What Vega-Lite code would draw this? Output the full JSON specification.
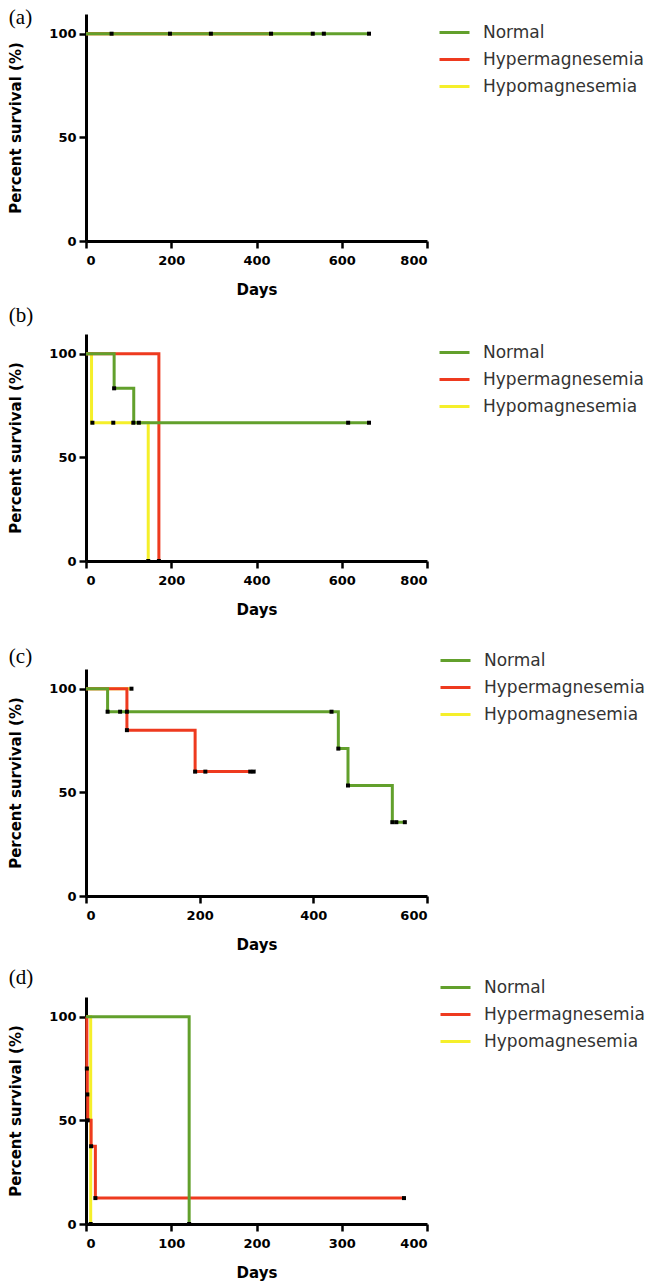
{
  "$schema": "https://vega.github.io/schema/vega-lite/v6.json",
  "padding": {"left": 8, "top": 7, "right": 5, "bottom": 2},
  "background": "white",
  "config": {
    "view": {"stroke": null},
    "axis": {"domainColor": "black", "domainWidth": 3, "tickColor": "black", "tickWidth": 2.5, "tickSize": 7, "grid": false,
      "labelFont": "DejaVu Sans", "labelFontWeight": "bold", "labelFontSize": 13, "labelColor": "black",
      "titleFont": "DejaVu Sans", "titleFontSize": 15, "titleFontWeight": "bold", "titleColor": "black"},
    "axisX": {"labelPadding": 6, "titlePadding": 15},
    "axisY": {"labelPadding": 3, "titlePadding": 25},
    "legend": {"orient": "right", "offset": 9, "padding": 2, "labelFont": "DejaVu Sans", "labelFontSize": 17, "labelColor": "#333333", "labelLimit": 300,
      "symbolType": "stroke", "symbolStrokeWidth": 3, "symbolSize": 900, "rowPadding": 2, "labelOffset": 12},
    "title": {"anchor": "start", "frame": "bounds", "font": "Liberation Serif", "fontSize": 21, "fontWeight": "normal", "color": "black", "offset": 0}
  },
  "datasets": {
    "km": [
      {"panel": "a", "group": "Hypomagnesemia", "day": 0, "surv": 100},
      {"panel": "a", "group": "Hypomagnesemia", "day": 535, "surv": 100},
      {"panel": "a", "group": "Hypermagnesemia", "day": 0, "surv": 100},
      {"panel": "a", "group": "Hypermagnesemia", "day": 440, "surv": 100},
      {"panel": "a", "group": "Normal", "day": 0, "surv": 100},
      {"panel": "a", "group": "Normal", "day": 665, "surv": 100},

      {"panel": "b", "group": "Hypomagnesemia", "day": 0, "surv": 100},
      {"panel": "b", "group": "Hypomagnesemia", "day": 13, "surv": 66.7},
      {"panel": "b", "group": "Hypomagnesemia", "day": 146, "surv": 0},
      {"panel": "b", "group": "Hypermagnesemia", "day": 0, "surv": 100},
      {"panel": "b", "group": "Hypermagnesemia", "day": 171, "surv": 0},
      {"panel": "b", "group": "Normal", "day": 0, "surv": 100},
      {"panel": "b", "group": "Normal", "day": 66, "surv": 83.3},
      {"panel": "b", "group": "Normal", "day": 112, "surv": 66.7},
      {"panel": "b", "group": "Normal", "day": 665, "surv": 66.7},

      {"panel": "c", "group": "Hypomagnesemia", "day": 0, "surv": 100},
      {"panel": "c", "group": "Hypomagnesemia", "day": 80, "surv": 100},
      {"panel": "c", "group": "Hypermagnesemia", "day": 0, "surv": 100},
      {"panel": "c", "group": "Hypermagnesemia", "day": 72, "surv": 80},
      {"panel": "c", "group": "Hypermagnesemia", "day": 192, "surv": 60},
      {"panel": "c", "group": "Hypermagnesemia", "day": 295, "surv": 60},
      {"panel": "c", "group": "Normal", "day": 0, "surv": 100},
      {"panel": "c", "group": "Normal", "day": 38, "surv": 88.9},
      {"panel": "c", "group": "Normal", "day": 444, "surv": 71.1},
      {"panel": "c", "group": "Normal", "day": 461, "surv": 53.3},
      {"panel": "c", "group": "Normal", "day": 539, "surv": 35.6},
      {"panel": "c", "group": "Normal", "day": 563, "surv": 35.6},

      {"panel": "d", "group": "Hypomagnesemia", "day": 0, "surv": 100},
      {"panel": "d", "group": "Hypomagnesemia", "day": 5.5, "surv": 0},
      {"panel": "d", "group": "Hypermagnesemia", "day": 0, "surv": 100},
      {"panel": "d", "group": "Hypermagnesemia", "day": 1, "surv": 75},
      {"panel": "d", "group": "Hypermagnesemia", "day": 1.5, "surv": 62.5},
      {"panel": "d", "group": "Hypermagnesemia", "day": 2, "surv": 50},
      {"panel": "d", "group": "Hypermagnesemia", "day": 6, "surv": 37.5},
      {"panel": "d", "group": "Hypermagnesemia", "day": 11, "surv": 12.5},
      {"panel": "d", "group": "Hypermagnesemia", "day": 373, "surv": 12.5},
      {"panel": "d", "group": "Normal", "day": 0, "surv": 100},
      {"panel": "d", "group": "Normal", "day": 121, "surv": 0}
    ],
    "cens": [
      {"panel": "a", "day": 60, "surv": 100}, {"panel": "a", "day": 197, "surv": 100}, {"panel": "a", "day": 293, "surv": 100},
      {"panel": "a", "day": 434, "surv": 100}, {"panel": "a", "day": 532, "surv": 100}, {"panel": "a", "day": 558, "surv": 100},
      {"panel": "a", "day": 664, "surv": 100},
      {"panel": "b", "day": 66, "surv": 83.3}, {"panel": "b", "day": 15, "surv": 66.7}, {"panel": "b", "day": 64, "surv": 66.7},
      {"panel": "b", "day": 111, "surv": 66.7}, {"panel": "b", "day": 124, "surv": 66.7}, {"panel": "b", "day": 615, "surv": 66.7},
      {"panel": "b", "day": 664, "surv": 66.7}, {"panel": "b", "day": 146, "surv": 0}, {"panel": "b", "day": 171, "surv": 0},
      {"panel": "c", "day": 80, "surv": 100}, {"panel": "c", "day": 38, "surv": 88.9}, {"panel": "c", "day": 60, "surv": 88.9},
      {"panel": "c", "day": 72, "surv": 88.9}, {"panel": "c", "day": 432, "surv": 88.9}, {"panel": "c", "day": 444, "surv": 71.1},
      {"panel": "c", "day": 461, "surv": 53.3}, {"panel": "c", "day": 539, "surv": 35.6}, {"panel": "c", "day": 546, "surv": 35.6},
      {"panel": "c", "day": 561, "surv": 35.6}, {"panel": "c", "day": 72, "surv": 80}, {"panel": "c", "day": 192, "surv": 60},
      {"panel": "c", "day": 210, "surv": 60}, {"panel": "c", "day": 289, "surv": 60}, {"panel": "c", "day": 295, "surv": 60},
      {"panel": "d", "day": 121, "surv": 0}, {"panel": "d", "day": 5.5, "surv": 0}, {"panel": "d", "day": 1, "surv": 75},
      {"panel": "d", "day": 1.5, "surv": 62.5}, {"panel": "d", "day": 2, "surv": 50}, {"panel": "d", "day": 6, "surv": 37.5},
      {"panel": "d", "day": 11, "surv": 12.5}, {"panel": "d", "day": 373, "surv": 12.5}
    ]
  },
  "resolve": {"scale": {"x": "independent", "y": "independent", "color": "shared"}, "legend": {"color": "independent"}},
  "spacing": 8,
  "vconcat": [
    {
      "title": {"text": "(a)", "dy": 18},
      "width": 341, "height": 227,
      "encoding": {
        "x": {"field": "day", "type": "quantitative", "scale": {"domain": [0, 800], "nice": false}, "axis": {"values": [0, 200, 400, 600, 800], "title": "Days"}},
        "y": {"field": "surv", "type": "quantitative", "scale": {"domain": [0, 109.5], "nice": false}, "axis": {"values": [0, 50, 100], "title": "Percent survival (%)"}}
      },
      "layer": [
        {"data": {"name": "km"}, "transform": [{"filter": "datum.panel === 'a' && datum.group === 'Hypomagnesemia'"}], "mark": {"type": "line", "interpolate": "step-after", "strokeWidth": 3},
         "encoding": {"color": {"field": "group", "type": "nominal", "scale": {"domain": ["Normal", "Hypermagnesemia", "Hypomagnesemia"], "range": ["#62a02c", "#ee3a1f", "#f5ef2a"]}, "legend": {"title": null}}}},
        {"data": {"name": "km"}, "transform": [{"filter": "datum.panel === 'a' && datum.group === 'Hypermagnesemia'"}], "mark": {"type": "line", "interpolate": "step-after", "strokeWidth": 3},
         "encoding": {"color": {"field": "group", "type": "nominal", "legend": {"title": null}}}},
        {"data": {"name": "km"}, "transform": [{"filter": "datum.panel === 'a' && datum.group === 'Normal'"}], "mark": {"type": "line", "interpolate": "step-after", "strokeWidth": 3},
         "encoding": {"color": {"field": "group", "type": "nominal", "legend": {"title": null}}}},
        {"data": {"name": "cens"}, "transform": [{"filter": "datum.panel === 'a'"}], "mark": {"type": "square", "size": 16, "color": "black", "opacity": 1}}
      ]
    },
    {
      "resolve": {"scale": {"x": "independent", "y": "independent", "color": "shared"}, "legend": {"color": "independent"}},
      "spacing": 25,
      "vconcat": [
        {
          "title": {"text": "(b)", "dy": -4},
          "width": 341, "height": 227,
          "encoding": {
            "x": {"field": "day", "type": "quantitative", "scale": {"domain": [0, 800], "nice": false}, "axis": {"values": [0, 200, 400, 600, 800], "title": "Days"}},
            "y": {"field": "surv", "type": "quantitative", "scale": {"domain": [0, 109.5], "nice": false}, "axis": {"values": [0, 50, 100], "title": "Percent survival (%)"}}
          },
          "layer": [
            {"data": {"name": "km"}, "transform": [{"filter": "datum.panel === 'b' && datum.group === 'Hypomagnesemia'"}], "mark": {"type": "line", "interpolate": "step-after", "strokeWidth": 3},
             "encoding": {"color": {"field": "group", "type": "nominal", "legend": {"title": null}}}},
            {"data": {"name": "km"}, "transform": [{"filter": "datum.panel === 'b' && datum.group === 'Hypermagnesemia'"}], "mark": {"type": "line", "interpolate": "step-after", "strokeWidth": 3},
             "encoding": {"color": {"field": "group", "type": "nominal", "legend": {"title": null}}}},
            {"data": {"name": "km"}, "transform": [{"filter": "datum.panel === 'b' && datum.group === 'Normal'"}], "mark": {"type": "line", "interpolate": "step-after", "strokeWidth": 3},
             "encoding": {"color": {"field": "group", "type": "nominal", "legend": {"title": null}}}},
            {"data": {"name": "cens"}, "transform": [{"filter": "datum.panel === 'b'"}], "mark": {"type": "square", "size": 16, "color": "black", "opacity": 1}}
          ]
        },
        {
          "resolve": {"scale": {"x": "independent", "y": "independent", "color": "shared"}, "legend": {"color": "independent"}},
          "spacing": 15,
          "vconcat": [
            {
              "title": {"text": "(c)", "dy": 29},
              "width": 341, "height": 227,
              "encoding": {
                "x": {"field": "day", "type": "quantitative", "scale": {"domain": [0, 600], "nice": false}, "axis": {"values": [0, 200, 400, 600], "title": "Days"}},
                "y": {"field": "surv", "type": "quantitative", "scale": {"domain": [0, 109.5], "nice": false}, "axis": {"values": [0, 50, 100], "title": "Percent survival (%)"}}
              },
              "layer": [
                {"data": {"name": "km"}, "transform": [{"filter": "datum.panel === 'c' && datum.group === 'Hypomagnesemia'"}], "mark": {"type": "line", "interpolate": "step-after", "strokeWidth": 3},
                 "encoding": {"color": {"field": "group", "type": "nominal", "legend": {"title": null, "orient": "none", "legendX": 351, "legendY": -27}}}},
                {"data": {"name": "km"}, "transform": [{"filter": "datum.panel === 'c' && datum.group === 'Hypermagnesemia'"}], "mark": {"type": "line", "interpolate": "step-after", "strokeWidth": 3},
                 "encoding": {"color": {"field": "group", "type": "nominal", "legend": {"title": null, "orient": "none", "legendX": 351, "legendY": -27}}}},
                {"data": {"name": "km"}, "transform": [{"filter": "datum.panel === 'c' && datum.group === 'Normal'"}], "mark": {"type": "line", "interpolate": "step-after", "strokeWidth": 3},
                 "encoding": {"color": {"field": "group", "type": "nominal", "legend": {"title": null, "orient": "none", "legendX": 351, "legendY": -27}}}},
                {"data": {"name": "cens"}, "transform": [{"filter": "datum.panel === 'c'"}], "mark": {"type": "square", "size": 16, "color": "black", "opacity": 1}}
              ]
            },
            {
              "title": {"text": "(d)", "dy": 23},
              "width": 341, "height": 227,
              "encoding": {
                "x": {"field": "day", "type": "quantitative", "scale": {"domain": [0, 400], "nice": false}, "axis": {"values": [0, 100, 200, 300, 400], "title": "Days"}},
                "y": {"field": "surv", "type": "quantitative", "scale": {"domain": [0, 109.5], "nice": false}, "axis": {"values": [0, 50, 100], "title": "Percent survival (%)"}}
              },
              "layer": [
                {"data": {"name": "km"}, "transform": [{"filter": "datum.panel === 'd' && datum.group === 'Hypomagnesemia'"}], "mark": {"type": "line", "interpolate": "step-after", "strokeWidth": 3},
                 "encoding": {"color": {"field": "group", "type": "nominal", "legend": {"title": null, "orient": "none", "legendX": 351, "legendY": -28}}}},
                {"data": {"name": "km"}, "transform": [{"filter": "datum.panel === 'd' && datum.group === 'Hypermagnesemia'"}], "mark": {"type": "line", "interpolate": "step-after", "strokeWidth": 3},
                 "encoding": {"color": {"field": "group", "type": "nominal", "legend": {"title": null, "orient": "none", "legendX": 351, "legendY": -28}}}},
                {"data": {"name": "km"}, "transform": [{"filter": "datum.panel === 'd' && datum.group === 'Normal'"}], "mark": {"type": "line", "interpolate": "step-after", "strokeWidth": 3},
                 "encoding": {"color": {"field": "group", "type": "nominal", "legend": {"title": null, "orient": "none", "legendX": 351, "legendY": -28}}}},
                {"data": {"name": "cens"}, "transform": [{"filter": "datum.panel === 'd'"}], "mark": {"type": "square", "size": 16, "color": "black", "opacity": 1}}
              ]
            }
          ]
        }
      ]
    }
  ]
}
